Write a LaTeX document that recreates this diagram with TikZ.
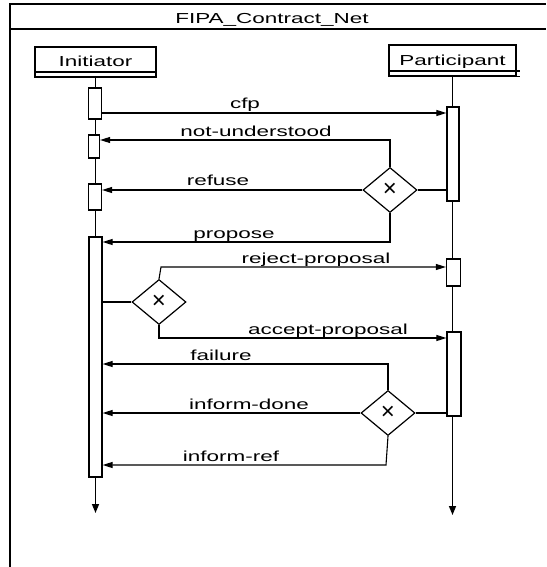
\documentclass[tikz,border=0pt]{standalone}
\usepackage{fontspec}
\setmainfont{Liberation Sans}[FakeStretch=1.55]
\newfontfamily\plainfont{Liberation Sans}
\usetikzlibrary{shapes.geometric,arrows.meta}
\begin{document}
\begin{tikzpicture}[x=1pt,y=-1pt,
  lbl/.style={anchor=base,inner sep=0pt,font=\fontsize{14.5pt}{16pt}\selectfont},
  headbox/.style={draw,line width=1.2pt,inner sep=0pt},
  actbox/.style={draw,fill=white,line width=1.2pt,inner sep=0pt},
  msg/.style={line width=1.1pt,-{Triangle[length=10pt,width=6pt]}},
  conn/.style={line width=1.1pt},
  life/.style={line width=1.5pt,-{Triangle[length=9pt,width=7pt]}},
  gate/.style={diamond,draw,fill=white,line width=1.2pt,minimum width=54pt,minimum height=45pt,inner sep=0pt,
    font=\plainfont\fontsize{24pt}{24pt}\selectfont}
]
\useasboundingbox (0,0) rectangle (546,567);
% frame
\coordinate (ftl) at (10,4);
\coordinate (ftr) at (546,4);
\coordinate (fbl) at (10,567);
\coordinate (fhl) at (10,29);
\coordinate (fhr) at (546,29);
\draw[line width=1.1pt] (fbl) -- (ftl) -- (ftr);
\draw[line width=1.1pt] (fhl) -- (fhr);
\node[lbl] (title) at (272,24) {FIPA\_Contract\_Net};

% heads
\node[headbox,minimum width=121pt,minimum height=30pt] (init) at (95.5,62) {};
\node[lbl] (initt) at (95.5,67) {Initiator};
\draw[line width=1.1pt] (init.west |- 0,72) -- (init.east |- 0,72);
\node[headbox,minimum width=127pt,minimum height=31pt] (part) at (452.5,60.5) {};
\node[lbl] (partt) at (452.5,65.5) {Participant};
\draw[line width=1.1pt] (part.west |- 0,71) -- ([xshift=3pt]part.east |- 0,71);
\draw[line width=1.2pt] (part.south west) -- ([xshift=3pt]part.south east);

% lifelines
\coordinate (iend) at (95.5,513);
\coordinate (pend) at (452.5,515);
\draw[life] (init.south) -- (iend);
\draw[life] (part.south) -- (pend);

% activation boxes
\node[actbox,minimum width=13pt,minimum height=31pt] (ia1) at (95,103.5) {};
\node[actbox,minimum width=11pt,minimum height=23pt] (ia2) at (94,146.5) {};
\node[actbox,minimum width=13pt,minimum height=26pt] (ia3) at (95,197) {};
\node[actbox,minimum width=13pt,minimum height=240pt] (ia4) at (95.5,357) {};
\node[actbox,minimum width=12pt,minimum height=94pt] (pa1) at (453,154) {};
\node[actbox,minimum width=14pt,minimum height=27pt] (pa2) at (453.5,272.5) {};
\node[actbox,minimum width=14pt,minimum height=84pt] (pa3) at (454,374) {};

% gates
\node[gate] (g1) at (390,190) {×};
\node[gate] (g2) at (159,302) {×};
\node[gate] (g3) at (388,413) {×};

% messages
\draw[msg] (ia1.east |- 0,113) -- (pa1.west |- 0,113);
\node[lbl] (lcfp) at (245,109) {cfp};

\draw[msg] (g1.north) -- (g1.north |- 0,140) -- (ia2.east |- 0,140);
\node[lbl] (lnu) at (256,136) {not-understood};

\draw[msg] (g1.west) -- (ia3.east |- g1.west);
\node[lbl] (lref) at (218,185) {refuse};

\draw[msg] (g1.south) -- (g1.south |- 0,242) -- (ia4.east |- 0,242);
\node[lbl] (lprop) at (234,238) {propose};

\draw[conn] (g1.east) -- (pa1.west |- g1.east);

\draw[conn] (ia4.east |- g2.west) -- (g2.west);
\draw[msg] (g2.north) -- ([xshift=2pt]g2.north |- 0,267) -- (pa2.west |- 0,267);
\node[lbl] (lrej) at (316,263) {reject-proposal};
\draw[msg] (g2.south) -- (g2.south |- 0,338) -- (pa3.west |- 0,338);
\node[lbl] (lacc) at (328,334) {accept-proposal};

\draw[msg] (g3.north) -- (g3.north |- 0,364) -- (ia4.east |- 0,364);
\node[lbl] (lfail) at (221,360) {failure};
\draw[msg] (g3.west) -- (ia4.east |- g3.west);
\node[lbl] (ldone) at (249,409) {inform-done};
\draw[msg] (g3.south) -- ([xshift=-2pt]g3.south |- 0,465) -- (ia4.east |- 0,465);
\node[lbl] (lirf) at (231,461) {inform-ref};
\draw[conn] (g3.east) -- (pa3.west |- g3.east);
\end{tikzpicture}
\end{document}
